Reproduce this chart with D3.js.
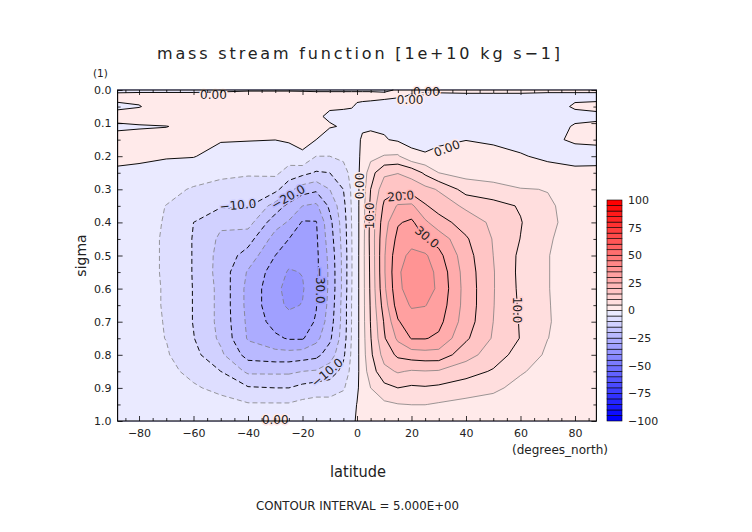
<!DOCTYPE html>
<html>
<head>
<meta charset="utf-8">
<script src="https://cdn.jsdelivr.net/npm/d3@7"></script>
<style>
  body { margin: 0; background: #fff; }
  text { font-family: "DejaVu Sans", "Liberation Sans", Arial, sans-serif; fill: #222; }
</style>
</head>
<body>
<svg id="vis"></svg>
<script>
// DATA ----------------------------------------------------------------------
// grid latitudes (degrees_north) and sigma levels
const lats = [-87.86, -80, -70, -60, -50, -40, -30, -25, -20, -15, -10, -5, -2, 0,
  2, 5, 10, 15, 20, 25, 30, 40, 50, 60, 70, 80, 87.86];
const sigmas = [0, 0.02, 0.05, 0.08, 0.11, 0.15, 0.2, 0.25, 0.3, 0.35, 0.4, 0.45,
  0.5, 0.55, 0.6, 0.65, 0.7, 0.75, 0.8, 0.85, 0.9, 0.95, 1.0];

// mass stream function, one profile (top -> bottom) per latitude, 1e10 kg/s
const psiColumns = [
  [-0.3, 0.4, -0.3, 0.6, -0.3, 0.6, 0.3, -0.2, -1.0, -1.6, -2.0, -2.3, -2.4, -2.5, -2.5, -2.5, -2.5, -2.4, -2.2, -1.8, -1.3, -0.7, -0.1],
  [-0.3, 0.5, -0.1, 1.0, -0.2, 0.8, 0.4, -0.5, -2.0, -3.0, -3.5, -3.8, -3.8, -3.8, -3.8, -3.8, -3.7, -3.5, -3.2, -2.6, -1.9, -1.0, -0.1],
  [-0.3, 0.5, 1.0, 1.2, -0.05, 0.7, 0.3, -1.5, -3.5, -5.1, -5.3, -5.4, -5.4, -5.4, -5.3, -5.3, -5.2, -5.1, -4.5, -3.5, -2.5, -1.2, -0.1],
  [-0.3, 0.5, 1.0, 1.2, 0.5, 0.6, 0.2, -2.5, -5.5, -8.0, -10.0, -10.3, -10.3, -10.3, -10.2, -10.2, -10.2, -9.8, -8.5, -6.5, -4.3, -2.0, -0.1],
  [-0.2, 0.5, 1.0, 1.2, 1.0, 0.3, -1.5, -4.0, -6.5, -9.5, -14.0, -16.0, -16.8, -17.0, -16.5, -16.5, -16.5, -16.0, -14.0, -10.0, -6.5, -3.0, -0.2],
  [-0.1, 0.5, 1.0, 1.2, 1.0, 0.2, -2.0, -4.5, -7.0, -9.5, -13.0, -18.0, -22.0, -25.5, -26.5, -26.5, -26.0, -25.5, -22.0, -16.0, -9.5, -4.5, -0.2],
  [-0.1, 0.5, 1.0, 1.2, 1.0, 0.05, -2.5, -4.0, -8.5, -17.0, -23.0, -27.0, -30.0, -32.5, -33.5, -33.5, -32.0, -29.0, -23.0, -16.0, -10.0, -4.5, -0.2],
  [-0.1, 0.5, 1.0, 1.2, 1.2, 0.6, -2.5, -7.0, -13.5, -21.5, -25.5, -30.0, -33.0, -35.5, -37.0, -35.8, -33.0, -30.5, -23.0, -16.0, -10.0, -4.5, -0.2],
  [-0.1, 0.4, 0.8, 1.0, 1.0, 0.8, -0.5, -8.5, -17.5, -25.0, -30.5, -32.5, -33.5, -34.8, -35.5, -34.8, -32.5, -30.5, -22.5, -15.0, -8.5, -3.5, -0.2],
  [-0.1, 0.3, 0.6, 0.3, 0.8, 0.0, -5.0, -10.5, -19.0, -26.0, -30.3, -30.8, -31.2, -31.2, -30.7, -30.3, -29.5, -26.5, -21.5, -14.5, -7.5, -3.0, -0.2],
  [-0.1, 0.3, 0.2, -0.3, 0.2, -1.5, -5.0, -10.0, -15.0, -19.0, -21.5, -22.5, -23.5, -24.0, -24.0, -23.5, -22.5, -21.0, -17.5, -12.5, -7.5, -3.0, -0.2],
  [-0.1, 0.3, 0.2, -0.5, -0.2, -1.5, -4.0, -7.0, -10.0, -11.5, -12.5, -13.0, -13.5, -13.5, -13.5, -13.0, -13.0, -12.5, -11.0, -8.5, -5.5, -2.5, -0.2],
  [-0.1, 0.3, 0.1, -0.5, -0.4, -1.0, -2.5, -3.5, -4.3, -4.7, -5.0, -5.2, -5.3, -5.3, -5.2, -5.0, -5.0, -4.8, -4.3, -3.5, -2.5, -1.2, -0.1],
  [-0.1, 0.3, -0.2, -0.4, -0.5, -0.5, -0.8, -1.0, -1.2, -1.3, -1.4, -1.5, -1.5, -1.5, -1.5, -1.5, -1.5, -1.4, -1.3, -1.1, -0.6, 0.1, 0.05],
  [-0.1, 0.3, -0.3, -0.5, -0.3, 0.3, 0.8, 1.5, 2.2, 2.6, 2.8, 3.0, 3.2, 3.2, 3.2, 3.2, 3.2, 3.0, 2.8, 2.3, 1.7, 0.8, 0.05],
  [-0.1, 0.3, -0.4, -0.7, -0.4, 0.8, 3.5, 8.0, 10.0, 11.0, 11.5, 11.5, 11.2, 11.0, 10.8, 10.5, 10.2, 9.7, 9.0, 7.5, 5.0, 2.5, 0.1],
  [-0.1, 0.2, -0.5, -0.8, -0.5, 0.3, 5.3, 14.0, 18.0, 21.0, 23.0, 24.0, 24.5, 24.5, 24.0, 22.5, 20.5, 19.5, 17.0, 13.5, 8.5, 4.0, 0.1],
  [0.05, 0.1, -0.7, -0.9, -0.8, -0.6, 5.6, 14.8, 19.0, 25.5, 29.5, 31.5, 33.5, 34.3, 33.8, 32.5, 29.5, 26.0, 21.0, 15.5, 10.0, 4.8, 0.1],
  [0.15, -0.1, -0.8, -1.0, -1.0, -1.0, 1.0, 13.5, 17.5, 26.0, 31.0, 33.5, 36.0, 37.5, 37.5, 35.5, 33.0, 30.3, 22.5, 14.5, 9.2, 5.1, 0.1],
  [0.15, -0.2, -0.9, -1.1, -1.1, -1.2, 0.4, 9.0, 16.5, 20.5, 26.0, 30.0, 35.8, 37.5, 37.5, 35.2, 32.5, 30.3, 23.0, 14.8, 9.5, 5.1, 0.1],
  [0.15, -0.2, -1.0, -1.2, -1.2, -0.8, 1.2, 5.0, 14.5, 18.0, 22.0, 28.0, 31.5, 33.5, 34.0, 33.0, 31.5, 29.0, 23.0, 14.5, 9.0, 4.5, 0.1],
  [0.2, -0.2, -1.0, -1.2, -1.0, -0.1, 2.0, 3.2, 8.0, 14.0, 17.8, 20.6, 22.0, 22.7, 23.0, 23.0, 22.5, 20.8, 17.0, 12.0, 7.5, 3.5, 0.1],
  [0.2, -0.2, -1.0, -1.2, -1.2, -0.7, 1.5, 3.0, 6.5, 12.0, 14.0, 14.7, 15.0, 15.3, 15.3, 15.2, 15.0, 14.5, 12.5, 9.5, 6.0, 3.0, 0.1],
  [0.2, -0.2, -0.8, -1.0, -1.0, -0.8, 0.2, 2.2, 5.2, 9.5, 10.3, 9.9, 9.0, 8.8, 9.0, 9.3, 9.6, 9.8, 8.0, 5.5, 3.5, 1.8, 0.1],
  [0.2, -0.3, -0.8, -1.0, -1.0, -0.3, -0.5, 1.0, 4.9, 5.4, 5.6, 5.3, 5.1, 5.1, 5.1, 5.15, 5.2, 5.05, 4.2, 3.2, 2.2, 1.1, 0.05],
  [0.2, -0.3, 0.2, -0.5, 0.2, 0.2, -0.6, 0.4, 3.5, 4.0, 4.0, 3.8, 3.7, 3.7, 3.7, 3.7, 3.7, 3.5, 3.0, 2.3, 1.6, 0.8, 0.05],
  [0.2, -0.3, 0.3, -0.3, 0.3, 0.2, -0.4, 0.3, 2.5, 2.8, 2.8, 2.7, 2.7, 2.7, 2.7, 2.7, 2.6, 2.5, 2.2, 1.7, 1.2, 0.6, 0.05],
];

const contourLevels = [-40, -35, -30, -25, -20, -15, -10, -5, 0, 5, 10, 15, 20, 25, 30, 35, 40];
const latTicks = [-80, -60, -40, -20, 0, 20, 40, 60, 80];
const latMinorTicks = [-85, -75, -70, -65, -55, -50, -45, -35, -30, -25, -15, -10, -5,
  5, 10, 15, 25, 30, 35, 45, 50, 55, 65, 70, 75, 85];
const sigmaTicks = [0, 0.1, 0.2, 0.3, 0.4, 0.5, 0.6, 0.7, 0.8, 0.9, 1.0];
const sigmaMinorTicks = [0.05, 0.15, 0.25, 0.35, 0.45, 0.55, 0.65, 0.75, 0.85, 0.95];
const barBands = d3.range(-100, 100, 5);
const barLabels = [100, 75, 50, 25, 0, -25, -50, -75, -100];

// contour labels: where the label sits on its line (lat, sigma) and its tilt
const contourLabels = [
  { lat: -52.7, sig: 0.013, text: "0.00", level: 0, angle: 0 },
  { lat: 25.5, sig: 0.004, text: "0.00", level: 0, angle: 0 },
  { lat: 19.5, sig: 0.028, text: "0.00", level: 0, angle: 0 },
  { lat: 33, sig: 0.176, text: "0.00", level: 0, angle: -20 },
  { lat: 0.8, sig: 0.29, text: "0.00", level: 0, angle: -90 },
  { lat: 4.5, sig: 0.38, text: "10.0", level: 10, angle: -90 },
  { lat: 16, sig: 0.32, text: "20.0", level: 20, angle: -5 },
  { lat: 25.7, sig: 0.444, text: "30.0", level: 30, angle: 40 },
  { lat: 58.7, sig: 0.665, text: "10.0", level: 10, angle: 90 },
  { lat: -43.7, sig: 0.347, text: "\u221210.0", level: -10, angle: -5 },
  { lat: -25.3, sig: 0.323, text: "\u221220.0", level: -20, angle: -30 },
  { lat: -13.6, sig: 0.59, text: "\u221230.0", level: -30, angle: 90 },
  { lat: -11, sig: 0.853, text: "\u221210.0", level: -10, angle: -40 },
  { lat: -30, sig: 0.995, text: "0.00", level: 0, angle: 0 },
];

// LAYOUT ---------------------------------------------------------------------
const WIDTH = 752;
const HEIGHT = 532;
const FRAME = { left: 117.6, right: 596.4, top: 90, bottom: 421 };
const BAR = { x: 607, w: 15, top: 200, bottom: 421 };

const svg = d3.select("#vis").attr("width", WIDTH).attr("height", HEIGHT);

const x = d3.scaleLinear().domain([lats[0], lats[lats.length - 1]]).range([FRAME.left, FRAME.right]);
const y = d3.scaleLinear().domain([0, 1]).range([FRAME.top, FRAME.bottom]);

// white -> red / white -> blue shading, one shade per 5-unit band
function bandColor(low) {
  const m = Math.max(-97.5, Math.min(97.5, low + 2.5));
  const c = Math.round(240 * (1 - Math.abs(m) / 97.5));
  return m > 0 ? d3.rgb(255, c, c).formatHex() : d3.rgb(c, c, 255).formatHex();
}

// GRID -> CONTOURS -----------------------------------------------------------
const nx = lats.length;
const ny = sigmas.length;
const values = new Array(nx * ny);
for (let j = 0; j < ny; j++) {
  for (let i = 0; i < nx; i++) values[j * nx + i] = psiColumns[i][j];
}

// d3.contours puts sample k at k + 0.5; map grid coords to lat/sigma
const latOfIndex = d3.scaleLinear().domain(d3.range(nx)).range(lats).clamp(true);
const sigOfIndex = d3.scaleLinear().domain(d3.range(ny)).range(sigmas).clamp(true);
const px = (a) => x(latOfIndex(a - 0.5));
const py = (b) => y(sigOfIndex(b - 0.5));

const contours = d3.contours().size([nx, ny]).thresholds(contourLevels)(values);
const path = d3.geoPath(d3.geoTransform({
  point(a, b) { this.stream.point(px(a), py(b)); },
}));

const plot = svg.append("g");
plot.append("rect")
  .attr("x", FRAME.left).attr("y", FRAME.top)
  .attr("width", FRAME.right - FRAME.left).attr("height", FRAME.bottom - FRAME.top)
  .attr("fill", bandColor(-45));

plot.selectAll("path.band")
  .data(contours)
  .join("path")
  .attr("class", "band")
  .attr("d", path)
  .attr("fill", (d) => bandColor(d.value))
  .attr("stroke", (d) => bandColor(d.value))
  .attr("stroke-width", 0.3);

// contour lines without the pieces that run along the frame
const eps = 1e-6;
function onFrame(p, q) {
  return (Math.abs(p[0] - FRAME.left) < eps && Math.abs(q[0] - FRAME.left) < eps) ||
    (Math.abs(p[0] - FRAME.right) < eps && Math.abs(q[0] - FRAME.right) < eps) ||
    (Math.abs(p[1] - FRAME.top) < eps && Math.abs(q[1] - FRAME.top) < eps) ||
    (Math.abs(p[1] - FRAME.bottom) < eps && Math.abs(q[1] - FRAME.bottom) < eps);
}
function lineRuns(ring) {
  const pts = ring.map(([a, b]) => [px(a), py(b)]);
  const runs = [];
  let cur = [pts[0]];
  for (let k = 1; k < pts.length; k++) {
    if (onFrame(pts[k - 1], pts[k])) {
      if (cur.length > 1) runs.push(cur);
      cur = [pts[k]];
    } else cur.push(pts[k]);
  }
  if (cur.length > 1) runs.push(cur);
  return runs;
}

const lineData = [];
contours.forEach((c) => {
  c.coordinates.forEach((poly) => poly.forEach((ring) => {
    lineRuns(ring).forEach((run) => lineData.push({ value: c.value, run }));
  }));
});

const line = d3.line();
plot.selectAll("path.iso")
  .data(lineData)
  .join("path")
  .attr("class", "iso")
  .attr("d", (d) => line(d.run))
  .attr("fill", "none")
  .attr("stroke", (d) => (d.value % 10 === 0 ? "#000" : "#7a7a7a"))
  .attr("stroke-width", (d) => (d.value % 10 === 0 ? 0.95 : 0.75))
  .attr("stroke-dasharray", (d) => (d.value < 0 ? "5,3" : null))
  .attr("stroke-linejoin", "round");

// contour labels
plot.selectAll("text.clab")
  .data(contourLabels)
  .join("text")
  .attr("class", "clab")
  .attr("transform", (d) => `translate(${x(d.lat)},${y(d.sig)}) rotate(${d.angle})`)
  .attr("text-anchor", "middle")
  .attr("dy", "0.36em")
  .attr("font-size", 12)
  .attr("stroke", (d) => bandColor(d.level >= 0 ? d.level : d.level - 5))
  .attr("stroke-width", 3)
  .attr("paint-order", "stroke")
  .text((d) => d.text);

// FRAME AND AXES -------------------------------------------------------------
function styleAxis(g) {
  g.select(".domain").remove();
  g.selectAll("line").attr("stroke", "#000").attr("stroke-width", 0.8);
  g.attr("font-family", "DejaVu Sans, Liberation Sans, Arial, sans-serif").attr("font-size", 11);
  g.selectAll("text").attr("fill", "#222");
}

svg.append("g")
  .attr("transform", `translate(0,${FRAME.bottom})`)
  .call(d3.axisBottom(x).tickValues(latTicks).tickSize(-5).tickPadding(8))
  .call(styleAxis);
svg.append("g")
  .attr("transform", `translate(0,${FRAME.bottom})`)
  .call(d3.axisBottom(x).tickValues(latMinorTicks).tickSize(-3).tickFormat(""))
  .call(styleAxis);
svg.append("g")
  .attr("transform", `translate(0,${FRAME.top})`)
  .call(d3.axisTop(x).tickValues(latTicks).tickSize(-5).tickFormat(""))
  .call(styleAxis);
svg.append("g")
  .attr("transform", `translate(0,${FRAME.top})`)
  .call(d3.axisTop(x).tickValues(latMinorTicks).tickSize(-3).tickFormat(""))
  .call(styleAxis);

svg.append("g")
  .attr("transform", `translate(${FRAME.left},0)`)
  .call(d3.axisLeft(y).tickValues(sigmaTicks).tickSize(-5).tickPadding(6).tickFormat(d3.format(".1f")))
  .call(styleAxis);
svg.append("g")
  .attr("transform", `translate(${FRAME.left},0)`)
  .call(d3.axisLeft(y).tickValues(sigmaMinorTicks).tickSize(-3).tickFormat(""))
  .call(styleAxis);
svg.append("g")
  .attr("transform", `translate(${FRAME.right},0)`)
  .call(d3.axisRight(y).tickValues(sigmaTicks).tickSize(-5).tickFormat(""))
  .call(styleAxis);
svg.append("g")
  .attr("transform", `translate(${FRAME.right},0)`)
  .call(d3.axisRight(y).tickValues(sigmaMinorTicks).tickSize(-3).tickFormat(""))
  .call(styleAxis);

svg.append("rect")
  .attr("x", FRAME.left).attr("y", FRAME.top)
  .attr("width", FRAME.right - FRAME.left).attr("height", FRAME.bottom - FRAME.top)
  .attr("fill", "none").attr("stroke", "#000").attr("stroke-width", 1.1);

// COLOUR BAR -------------------------------------------------------------------
const yBar = d3.scaleLinear().domain([-100, 100]).range([BAR.bottom, BAR.top]);
svg.append("g").selectAll("rect")
  .data(barBands)
  .join("rect")
  .attr("x", BAR.x)
  .attr("y", (d) => yBar(d + 5))
  .attr("width", BAR.w)
  .attr("height", (d) => yBar(d) - yBar(d + 5))
  .attr("fill", (d) => bandColor(d))
  .attr("stroke", "#000")
  .attr("stroke-width", 0.6);
svg.append("g").selectAll("text")
  .data(barLabels)
  .join("text")
  .attr("x", BAR.x + BAR.w + 6)
  .attr("y", (d) => yBar(d))
  .attr("dy", "0.36em")
  .attr("font-size", 11)
  .text((d) => d3.format("d")(d));

// TEXTS ----------------------------------------------------------------------------
svg.append("text")
  .attr("x", 157).attr("y", 59)
  .attr("font-size", 16)
  .attr("textLength", 403).attr("lengthAdjust", "spacing")
  .attr("fill", "#333")
  .text("mass stream function [1e+10 kg s\u22121]");
svg.append("text")
  .attr("x", 93).attr("y", 77)
  .attr("font-size", 10.5)
  .text("(1)");
svg.append("text")
  .attr("transform", `translate(86,${(FRAME.top + FRAME.bottom) / 2}) rotate(-90)`)
  .attr("text-anchor", "middle")
  .attr("font-size", 14)
  .attr("fill", "#333")
  .text("sigma");
svg.append("text")
  .attr("x", 330).attr("y", 477)
  .attr("font-size", 15)
  .attr("textLength", 56).attr("lengthAdjust", "spacingAndGlyphs")
  .attr("fill", "#333")
  .text("latitude");
svg.append("text")
  .attr("x", 512).attr("y", 454)
  .attr("font-size", 12)
  .attr("textLength", 96).attr("lengthAdjust", "spacingAndGlyphs")
  .text("(degrees_north)");
svg.append("text")
  .attr("x", 256).attr("y", 510)
  .attr("font-size", 11.7)
  .attr("textLength", 203).attr("lengthAdjust", "spacingAndGlyphs")
  .text("CONTOUR INTERVAL = 5.000E+00");
</script>
</body>
</html>
